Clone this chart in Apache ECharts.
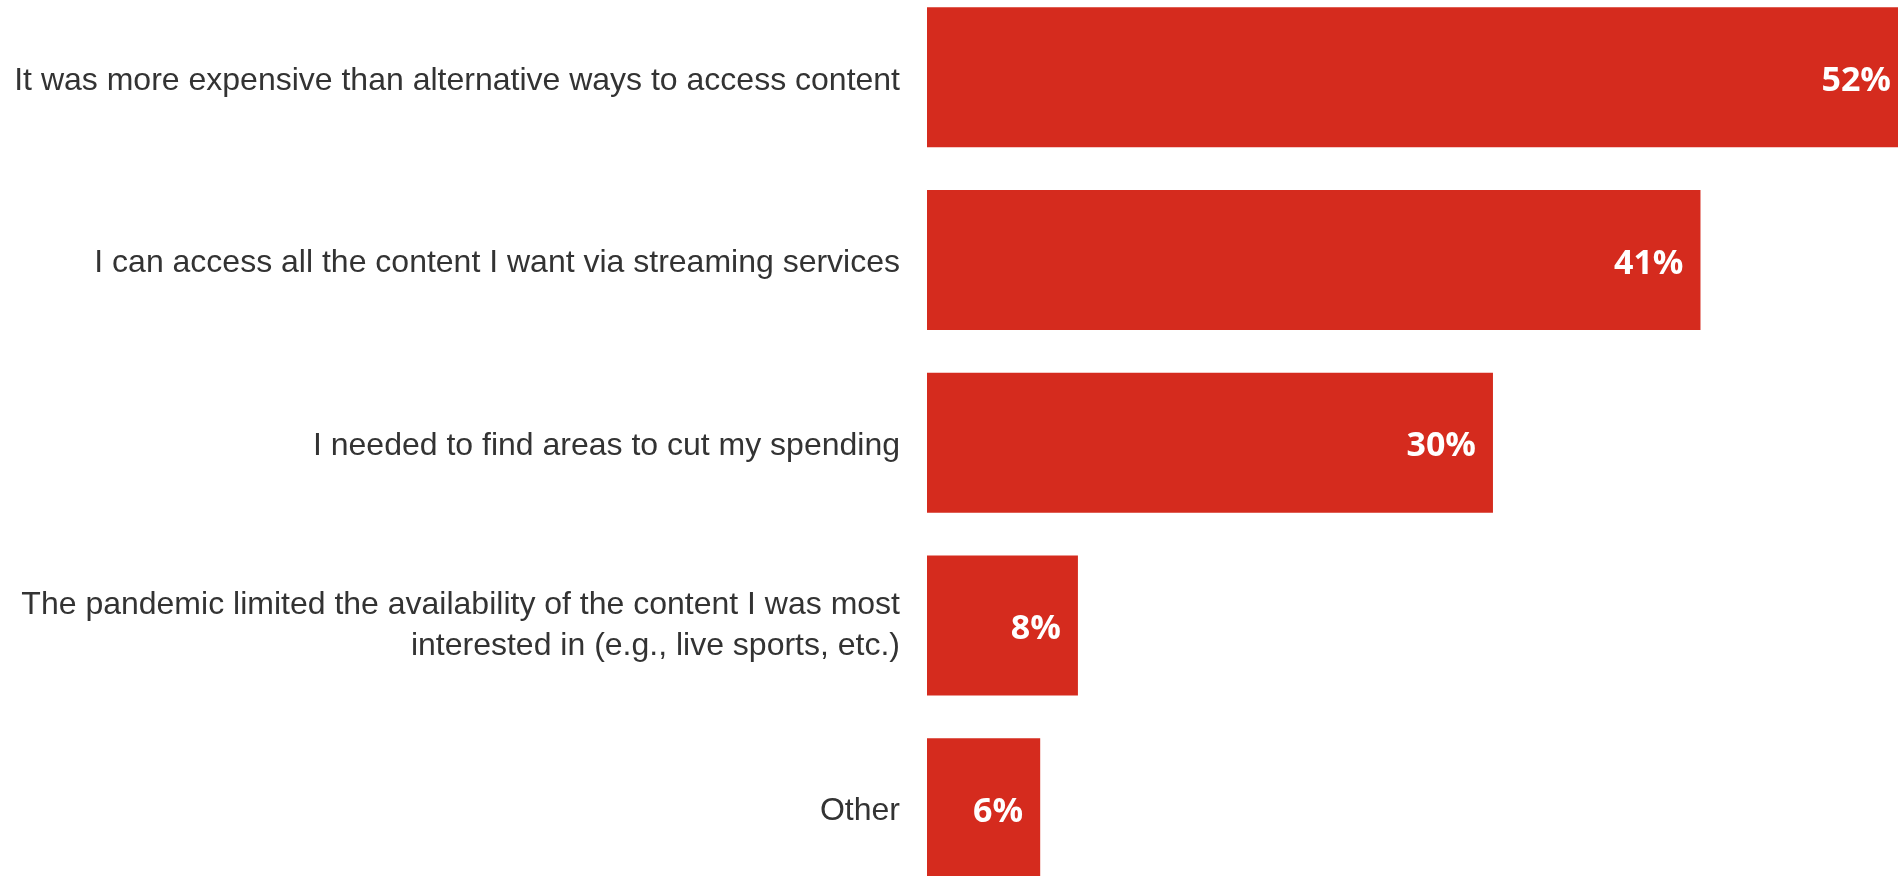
<!DOCTYPE html>
<html>
<head>
<meta charset="utf-8">
<script src="https://cdn.jsdelivr.net/npm/echarts@6/dist/echarts.min.js"></script>
<style>
html,body{margin:0;padding:0;background:#fff;overflow:hidden;width:1898px;height:876px;}
#chart{position:absolute;left:0;top:-14px;width:1930px;height:914px;}
</style>
</head>
<body>
<div id="chart"></div>
<script>
const categories = [
  "It was more expensive than alternative ways to access content",
  "I can access all the content I want via streaming services",
  "I needed to find areas to cut my spending",
  "The pandemic limited the availability of the content I was most\ninterested in (e.g., live sports, etc.)",
  "Other"
];
const values = [52, 41, 30, 8, 6];

const chart = echarts.init(document.getElementById('chart'), null, {renderer: 'canvas'});
chart.setOption({
  animation: false,
  backgroundColor: '#ffffff',
  grid: { left: 927, top: 0, width: 981, height: 913.5, containLabel: false },
  xAxis: { type: 'value', min: 0, max: 52, show: false },
  yAxis: {
    type: 'category',
    inverse: true,
    data: categories,
    axisLine: { show: false },
    axisTick: { show: false },
    splitLine: { show: false },
    axisLabel: {
      margin: 27,
      fontSize: 32,
      lineHeight: 41,
      color: '#333333',
      fontFamily: '"Liberation Sans", Arial, sans-serif',
      align: 'right',
      formatter: function (v) {
        if (v.indexOf('\n') >= 0) {
          return v.split('\n').map(function (s) { return '{m|' + s + '}'; }).join('\n');
        }
        return '{s|' + v + '}';
      },
      rich: {
        s: { fontSize: 32, lineHeight: 41, padding: [7, 0, 0, 0], color: '#333333',
             fontFamily: '"Liberation Sans", Arial, sans-serif' },
        m: { fontSize: 32, lineHeight: 41, color: '#333333',
             fontFamily: '"Liberation Sans", Arial, sans-serif' }
      }
    }
  },
  series: [{
    type: 'bar',
    data: values,
    barWidth: 140,
    itemStyle: { color: '#d52b1e' },
    label: {
      show: true,
      position: 'insideRight',
      distance: 17,
      offset: [0, 4],
      formatter: '{c}%',
      color: '#ffffff',
      fontSize: 34,
      fontWeight: 'bold',
      fontFamily: '"Open Sans", Lato, sans-serif'
    }
  }]
});
</script>
</body>
</html>
